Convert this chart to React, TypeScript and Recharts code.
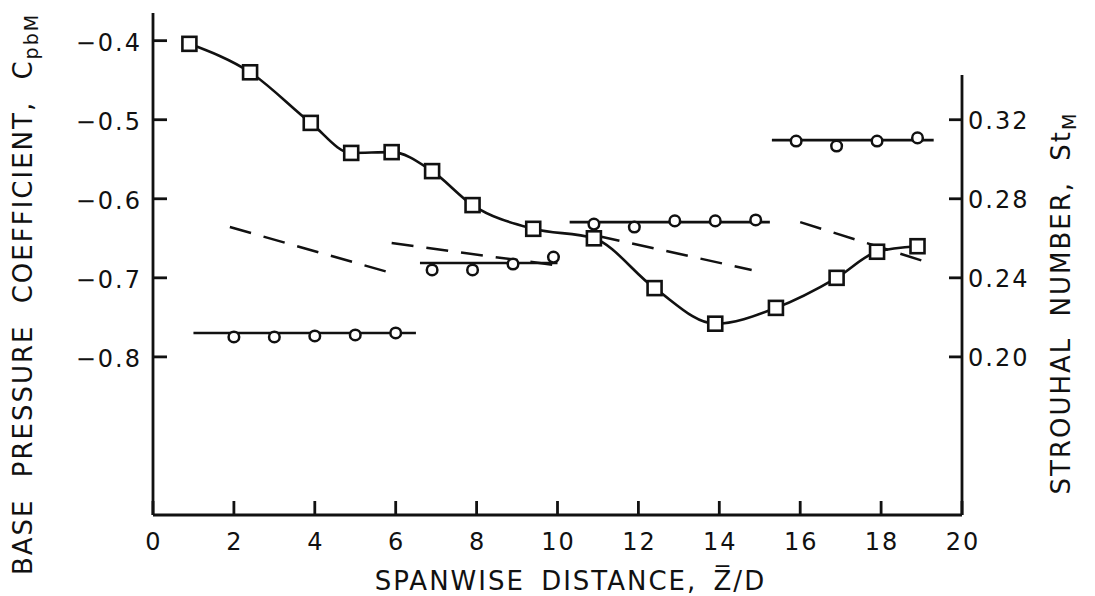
import React from 'react';
import { ComposedChart, Line, XAxis, YAxis, ReferenceLine, Label } from 'recharts';

const FONT = '"DejaVu Sans", "Liberation Sans", sans-serif';
const INK = '#111';

// base pressure coefficient along the span (squares, left axis)
const cpbZ = [0.9, 2.4, 3.9, 4.9, 5.9, 6.9, 7.9, 9.4, 10.9, 12.4, 13.9, 15.4, 16.9, 17.9, 18.9];
const cpbValues = [-0.404, -0.44, -0.504, -0.542, -0.541, -0.565, -0.608, -0.638, -0.65, -0.713, -0.758, -0.738, -0.7, -0.667, -0.66];

// strouhal number, one array per cell (circles, right axis)
const stZ1 = [2, 3, 4, 5, 6];
const stValues1 = [0.2101, 0.2101, 0.2106, 0.2111, 0.2121];
const stZ2 = [6.9, 7.9, 8.9, 9.9];
const stValues2 = [0.244, 0.244, 0.247, 0.2505];
const stZ3 = [10.9, 11.9, 12.9, 13.9, 14.9];
const stValues3 = [0.2672, 0.2657, 0.2688, 0.2688, 0.2693];
const stZ4 = [15.9, 16.9, 17.9, 18.9];
const stValues4 = [0.3092, 0.3067, 0.3092, 0.3108];

// mean level drawn through each cell
const cellZ = [[1, 6.5], [6.6, 10], [10.3, 15.25], [15.3, 19.3]];
const cellSt = [0.2121, 0.2475, 0.2682, 0.3097];

// dashed segments
const dashZ = [[1.9, 5.9], [5.9, 9.9], [11, 14.8], [16, 19.05]];
const dashSt = [[0.2657, 0.2424], [0.2576, 0.2465], [0.2612, 0.244], [0.2682, 0.2485]];

const xTicks = [0, 2, 4, 6, 8, 10, 12, 14, 16, 18, 20];
const cpbTicks = [-0.8, -0.7, -0.6, -0.5, -0.4];
const stTicks = [0.2, 0.24, 0.28, 0.32];
const stAxisTop = 0.3426;

const pts = (zs: number[], vs: number[]) => zs.map((z, i) => ({ z, v: vs[i] }));

const cpbData = pts(cpbZ, cpbValues);
const stCells = [pts(stZ1, stValues1), pts(stZ2, stValues2), pts(stZ3, stValues3), pts(stZ4, stValues4)];
const cellLines = cellZ.map((zs, i) => pts(zs, [cellSt[i], cellSt[i]]));
const dashLines = dashZ.map((zs, i) => pts(zs, dashSt[i]));

const textProps = { fontFamily: FONT, fill: INK, letterSpacing: 2 };

const LeftTick = ({ x, y, payload }: any) => (
	<g>
		<line x1={x} y1={y} x2={x + 14} y2={y} stroke={INK} strokeWidth={2.8} />
		<text x={x - 11} y={y + 10} textAnchor="end" fontSize={24} {...textProps}>
			{'\u2212' + Math.abs(payload.value).toFixed(1)}
		</text>
	</g>
);

const RightTick = ({ x, y, payload }: any) => (
	<g>
		<line x1={x - 13} y1={y} x2={x} y2={y} stroke={INK} strokeWidth={2.8} />
		<text x={x + 6} y={y + 9} textAnchor="start" fontSize={24} {...textProps}>
			{payload.value.toFixed(2)}
		</text>
	</g>
);

const BottomTick = ({ x, y, payload }: any) => (
	<g>
		<line x1={x} y1={y} x2={x} y2={y - 14} stroke={INK} strokeWidth={2.8} />
		<text x={x + 1} y={y + 35} textAnchor="middle" fontSize={24} {...textProps}>
			{payload.value}
		</text>
	</g>
);

const LeftTitle = ({ viewBox }: any) => {
	const x = viewBox.x + 32;
	const y = viewBox.y + viewBox.height / 2 + 30;
	return (
		<text x={x} y={y} transform={`rotate(-90 ${x} ${y})`} textAnchor="middle" fontSize={26} wordSpacing={11} {...textProps}>
			BASE PRESSURE COEFFICIENT, C<tspan fontSize={19} dy={6}>pbM</tspan>
		</text>
	);
};

const RightTitle = ({ viewBox }: any) => {
	const x = viewBox.x + 108;
	const y = viewBox.y + viewBox.height / 2 + 39;
	return (
		<text x={x} y={y} transform={`rotate(-90 ${x} ${y})`} textAnchor="middle" fontSize={26} wordSpacing={10} {...textProps}>
			STROUHAL NUMBER, St<tspan fontSize={19} dy={6}>M</tspan>
		</text>
	);
};

const BottomTitle = ({ viewBox }: any) => (
	<text x={viewBox.x + viewBox.width / 2 + 13} y={viewBox.y + 75} textAnchor="middle" fontSize={26} wordSpacing={6} {...textProps}>
		{'SPANWISE DISTANCE, Z\u0305/D'}
	</text>
);

const SquareDot = (props: any) => {
	const { cx, cy, index } = props;
	if (cx == null || cy == null) return <g key={`sq-${index}`} />;
	return <rect key={`sq-${index}`} x={cx - 7} y={cy - 7} width={14} height={14} fill="#fff" stroke={INK} strokeWidth={2.6} />;
};

const CircleDot = (props: any) => {
	const { cx, cy, index } = props;
	if (cx == null || cy == null) return <g key={`c-${index}`} />;
	return <circle key={`c-${index}`} cx={cx} cy={cy} r={5.3} fill="#fff" stroke={INK} strokeWidth={2.5} />;
};

export default function App() {
	return (
		<div style={{ position: 'absolute', left: 0, top: 0, width: 1095, height: 596, background: '#fff' }}>
			<ComposedChart width={1095} height={596} margin={{ top: 13, right: 0, bottom: 0, left: 0 }}>
				<XAxis
					xAxisId={0}
					type="number"
					dataKey="z"
					domain={[0, 20]}
					ticks={xTicks}
					interval={0}
					height={81}
					tickSize={0}
					tickMargin={0}
					tick={<BottomTick />}
					axisLine={{ stroke: INK, strokeWidth: 2.8 }}
				>
					<Label content={BottomTitle} />
				</XAxis>
				<YAxis
					yAxisId="cpb"
					orientation="left"
					type="number"
					domain={[-1.0, -0.365]}
					ticks={cpbTicks}
					interval={0}
					width={153}
					tickSize={0}
					tickMargin={0}
					tick={<LeftTick />}
					axisLine={{ stroke: INK, strokeWidth: 2.8 }}
					allowDataOverflow
				>
					<Label content={LeftTitle} />
				</YAxis>
				<YAxis
					yAxisId="st"
					orientation="right"
					type="number"
					domain={[0.12, 0.374]}
					ticks={stTicks}
					interval={0}
					width={133}
					tickSize={0}
					tickMargin={0}
					tick={<RightTick />}
					axisLine={false}
					allowDataOverflow
				>
					<Label content={RightTitle} />
				</YAxis>

				<ReferenceLine
					yAxisId="st"
					segment={[{ x: 20, y: 0.12 }, { x: 20, y: stAxisTop }]}
					stroke={INK}
					strokeWidth={2.8}
				/>

				{dashLines.map((d, i) => (
					<Line
						key={`dash-${i}`}
						yAxisId="st"
						data={d}
						dataKey="v"
						type="linear"
						stroke={INK}
						strokeWidth={2.5}
						strokeDasharray="22 13"
						dot={false}
						activeDot={false}
						isAnimationActive={false}
					/>
				))}

				{cellLines.map((d, i) => (
					<Line
						key={`cell-${i}`}
						yAxisId="st"
						data={d}
						dataKey="v"
						type="linear"
						stroke={INK}
						strokeWidth={2.6}
						dot={false}
						activeDot={false}
						isAnimationActive={false}
					/>
				))}

				<Line
					yAxisId="cpb"
					data={cpbData}
					dataKey="v"
					type="monotone"
					stroke={INK}
					strokeWidth={2.6}
					dot={SquareDot}
					activeDot={false}
					isAnimationActive={false}
				/>

				{stCells.map((d, i) => (
					<Line
						key={`st-${i}`}
						yAxisId="st"
						data={d}
						dataKey="v"
						stroke="none"
						dot={CircleDot}
						activeDot={false}
						isAnimationActive={false}
					/>
				))}
			</ComposedChart>
		</div>
	);
}
